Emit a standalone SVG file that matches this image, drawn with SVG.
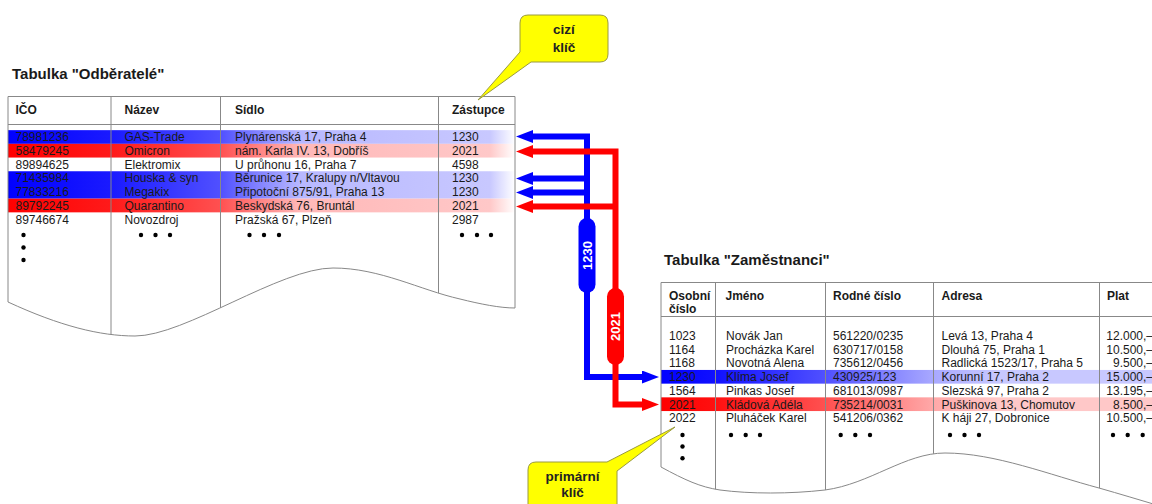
<svg xmlns="http://www.w3.org/2000/svg" width="1152" height="504" viewBox="0 0 1152 504">
<style>
text{font-family:"Liberation Sans",Arial,sans-serif;fill:#1a1a1a}
.t{font-size:12px}
.r{font-size:12px;text-anchor:end}
.h{font-size:12px;font-weight:bold}
.ti{font-size:15px;font-weight:bold}
.cl{font-size:13.5px;font-weight:bold;text-anchor:middle;fill:#222}
.pl{font-size:13px;font-weight:bold;text-anchor:middle;fill:#fff}
.ln{stroke:#888;stroke-width:1;fill:none}
.dot{fill:#000}
.bl{stroke:#0000ff;stroke-width:6;fill:none;stroke-linejoin:miter}
.rd{stroke:#ff0000;stroke-width:6;fill:none;stroke-linejoin:miter}
.callout{fill:#ffff00;stroke:#9a9a40;stroke-width:1}
</style>
<defs>
<linearGradient id="gbL" gradientUnits="userSpaceOnUse" x1="8" y1="0" x2="515" y2="0">
<stop offset="0" stop-color="#0000ff"/><stop offset="0.203" stop-color="#1a1aff"/><stop offset="0.418" stop-color="#5050ff"/><stop offset="0.576" stop-color="#b8b8ff"/><stop offset="0.95" stop-color="#c8c8ff"/><stop offset="1" stop-color="#ffffff"/>
</linearGradient>
<linearGradient id="grL" gradientUnits="userSpaceOnUse" x1="8" y1="0" x2="515" y2="0">
<stop offset="0" stop-color="#ff0000"/><stop offset="0.203" stop-color="#ff1a1a"/><stop offset="0.418" stop-color="#ff5050"/><stop offset="0.576" stop-color="#ffb8b8"/><stop offset="0.95" stop-color="#ffc8c8"/><stop offset="1" stop-color="#ffffff"/>
</linearGradient>
<linearGradient id="gbR" gradientUnits="userSpaceOnUse" x1="661" y1="0" x2="1152" y2="0">
<stop offset="0" stop-color="#0000ff"/><stop offset="0.11" stop-color="#1010ff"/><stop offset="0.334" stop-color="#5050ff"/><stop offset="0.554" stop-color="#a8a8ff"/><stop offset="0.69" stop-color="#c8c8ff"/><stop offset="1" stop-color="#c8c8ff"/>
</linearGradient>
<linearGradient id="grR" gradientUnits="userSpaceOnUse" x1="661" y1="0" x2="1152" y2="0">
<stop offset="0" stop-color="#ff0000"/><stop offset="0.11" stop-color="#ff1010"/><stop offset="0.334" stop-color="#ff5050"/><stop offset="0.554" stop-color="#ffa8a8"/><stop offset="0.69" stop-color="#ffc8c8"/><stop offset="1" stop-color="#ffc8c8"/>
</linearGradient>
<clipPath id="clipL"><path d="M8,96 H515 V308 C500,308 480,304 460,299 C420,290 380,268 333,268 C280,268 185,336 135,336 C100,336 60,326 8,302 Z"/></clipPath>
<clipPath id="clipR"><path d="M661,282 H1160 V506 C1140,500 1120,494 1099,488 C1050,475 995,453 945,453 C905,453 870,484 825,490 C790,494 750,494 720,490 C700,487 685,480 661,467 Z"/></clipPath>
<marker id="ahB" markerUnits="userSpaceOnUse" markerWidth="18" markerHeight="14" refX="1" refY="6.5" orient="auto-start-reverse"><path d="M0,0 L17,6.5 L0,13 Z" fill="#0000ff"/></marker>
<marker id="ahR" markerUnits="userSpaceOnUse" markerWidth="18" markerHeight="14" refX="1" refY="6.5" orient="auto-start-reverse"><path d="M0,0 L17,6.5 L0,13 Z" fill="#ff0000"/></marker>
</defs>
<rect width="1152" height="504" fill="#fff"/>

<g id="table-odberatele">
<text class="ti" x="12" y="79">Tabulka "Odběratelé"</text>
<g clip-path="url(#clipL)">
<rect x="8" y="130.15" width="507" height="13.7" fill="url(#gbL)"/>
<rect x="8" y="143.85" width="507" height="13.7" fill="url(#grL)"/>
<rect x="8" y="171.25" width="507" height="27.4" fill="url(#gbL)"/>
<rect x="8" y="198.65" width="507" height="13.7" fill="url(#grL)"/>
<path class="ln" d="M8,124.5 H515 M111,96 V400 M220.5,96 V400 M438.5,96 V400"/>
</g>
<path class="ln" d="M8,302 V96.5 H515 V308 C500,308 480,304 460,299 C420,290 380,268 333,268 C280,268 185,336 135,336 C100,336 60,326 8,302"/>
<text class="h" x="15.5" y="114">IČO</text>
<text class="h" x="124.5" y="114">Název</text>
<text class="h" x="235" y="114">Sídlo</text>
<text class="h" x="452" y="114">Zástupce</text>
<g class="t">
<text class="t" x="15.5" y="141.3">78981236</text><text class="t" x="124.5" y="141.3">GAS-Trade</text><text class="t" x="235" y="141.3">Plynárenská 17, Praha 4</text><text class="t" x="452" y="141.3">1230</text>
<text class="t" x="15.5" y="155">58479245</text><text class="t" x="124.5" y="155">Omicron</text><text class="t" x="235" y="155">nám. Karla IV. 13, Dobříš</text><text class="t" x="452" y="155">2021</text>
<text class="t" x="15.5" y="168.7">89894625</text><text class="t" x="124.5" y="168.7">Elektromix</text><text class="t" x="235" y="168.7">U průhonu 16, Praha 7</text><text class="t" x="452" y="168.7">4598</text>
<text class="t" x="15.5" y="182.4">71435984</text><text class="t" x="124.5" y="182.4">Houska &amp; syn</text><text class="t" x="235" y="182.4">Běrunice 17, Kralupy n/Vltavou</text><text class="t" x="452" y="182.4">1230</text>
<text class="t" x="15.5" y="196.1">77833216</text><text class="t" x="124.5" y="196.1">Megakix</text><text class="t" x="235" y="196.1">Připotoční 875/91, Praha 13</text><text class="t" x="452" y="196.1">1230</text>
<text class="t" x="15.5" y="209.8">89792245</text><text class="t" x="124.5" y="209.8">Quarantino</text><text class="t" x="235" y="209.8">Beskydská 76, Bruntál</text><text class="t" x="452" y="209.8">2021</text>
<text class="t" x="15.5" y="223.5">89746674</text><text class="t" x="124.5" y="223.5">Novozdroj</text><text class="t" x="235" y="223.5">Pražská 67, Plzeň</text><text class="t" x="452" y="223.5">2987</text>
</g>
<g class="dot">
<circle cx="23.5" cy="235" r="2.2"/><circle cx="23.5" cy="247.5" r="2.2"/><circle cx="23.5" cy="260" r="2.2"/>
<circle cx="141" cy="235" r="2.2"/><circle cx="155.5" cy="235" r="2.2"/><circle cx="170" cy="235" r="2.2"/>
<circle cx="249.5" cy="235" r="2.2"/><circle cx="264" cy="235" r="2.2"/><circle cx="279" cy="235" r="2.2"/>
<circle cx="462" cy="235" r="2.2"/><circle cx="477" cy="235" r="2.2"/><circle cx="491" cy="235" r="2.2"/>
</g>
</g>

<g id="table-zamestnanci">
<text class="ti" x="664" y="265">Tabulka "Zaměstnanci"</text>
<g clip-path="url(#clipR)">
<rect x="661" y="369.95" width="491" height="13.7" fill="url(#gbR)"/>
<rect x="661" y="397.35" width="491" height="13.7" fill="url(#grR)"/>
<path class="ln" d="M661,316.5 H1152 M715.5,282 V510 M825.5,282 V510 M933.5,282 V510 M1099.5,282 V510"/>
</g>
<path class="ln" d="M661,467 V282.5 H1152 M661,467 C685,480 700,487 720,490 C750,494 790,494 825,490 C870,484 905,453 945,453 C995,453 1050,475 1099,488 C1120,494 1140,500 1160,506"/>
<text class="h" x="669" y="300">Osobní</text>
<text class="h" x="669" y="313">číslo</text>
<text class="h" x="725.5" y="300">Jméno</text>
<text class="h" x="833" y="300">Rodné číslo</text>
<text class="h" x="941.5" y="300">Adresa</text>
<text class="h" x="1107" y="300">Plat</text>
<g>
<text class="t" x="669" y="340">1023</text><text class="t" x="726" y="340">Novák Jan</text><text class="t" x="833" y="340">561220/0235</text><text class="t" x="941.5" y="340">Levá 13, Praha 4</text><text class="r" x="1153" y="340">12.000,–</text>
<text class="t" x="669" y="353.7">1164</text><text class="t" x="726" y="353.7">Procházka Karel</text><text class="t" x="833" y="353.7">630717/0158</text><text class="t" x="941.5" y="353.7">Dlouhá 75, Praha 1</text><text class="r" x="1153" y="353.7">10.500,–</text>
<text class="t" x="669" y="367.4">1168</text><text class="t" x="726" y="367.4">Novotná Alena</text><text class="t" x="833" y="367.4">735612/0456</text><text class="t" x="941.5" y="367.4">Radlická 1523/17, Praha 5</text><text class="r" x="1153" y="367.4">9.500,–</text>
<text class="t" x="669" y="381.1">1230</text><text class="t" x="726" y="381.1">Klíma Josef</text><text class="t" x="833" y="381.1">430925/123</text><text class="t" x="941.5" y="381.1">Korunní 17, Praha 2</text><text class="r" x="1153" y="381.1">15.000,–</text>
<text class="t" x="669" y="394.8">1564</text><text class="t" x="726" y="394.8">Pinkas Josef</text><text class="t" x="833" y="394.8">681013/0987</text><text class="t" x="941.5" y="394.8">Slezská 97, Praha 2</text><text class="r" x="1153" y="394.8">13.195,–</text>
<text class="t" x="669" y="408.5">2021</text><text class="t" x="726" y="408.5">Kládová Adéla</text><text class="t" x="833" y="408.5">735214/0031</text><text class="t" x="941.5" y="408.5">Puškinova 13, Chomutov</text><text class="r" x="1153" y="408.5">8.500,–</text>
<text class="t" x="669" y="422.2">2022</text><text class="t" x="726" y="422.2">Pluháček Karel</text><text class="t" x="833" y="422.2">541206/0362</text><text class="t" x="941.5" y="422.2">K háji 27, Dobronice</text><text class="r" x="1153" y="422.2">10.500,–</text>
</g>
<g class="dot">
<circle cx="682.5" cy="435" r="2.2"/><circle cx="682.5" cy="446.5" r="2.2"/><circle cx="682.5" cy="458.3" r="2.2"/>
<circle cx="731" cy="435" r="2.2"/><circle cx="745.7" cy="435" r="2.2"/><circle cx="760" cy="435" r="2.2"/>
<circle cx="840.7" cy="435" r="2.2"/><circle cx="855.3" cy="435" r="2.2"/><circle cx="870" cy="435" r="2.2"/>
<circle cx="950" cy="435" r="2.2"/><circle cx="964.5" cy="435" r="2.2"/><circle cx="979" cy="435" r="2.2"/>
<circle cx="1113" cy="435" r="2.2"/><circle cx="1127.7" cy="435" r="2.2"/><circle cx="1142.7" cy="435" r="2.2"/>
</g>
</g>

<g id="connectors">
<path class="bl" d="M643,377 H587 V136.5 H532" marker-start="url(#ahB)" marker-end="url(#ahB)"/>
<path class="bl" d="M587,178.5 H532" marker-end="url(#ahB)"/>
<path class="bl" d="M587,192.5 H532" marker-end="url(#ahB)"/>
<rect x="578.5" y="218" width="17" height="75" rx="8.5" fill="#0000ff"/>
<text class="pl" transform="translate(591.6,255.5) rotate(-90)">1230</text>
<path class="rd" d="M643,404.5 H615.5 V151.5 H532" marker-start="url(#ahR)" marker-end="url(#ahR)"/>
<path class="rd" d="M615.5,206.5 H532" marker-end="url(#ahR)"/>
<rect x="607" y="288" width="17" height="77" rx="8.5" fill="#ff0000"/>
<text class="pl" transform="translate(620.1,326.5) rotate(-90)">2021</text>
</g>

<g id="callout-cizi-klic">
<path class="callout" d="M528,15 H600 Q608,15 608,23 V54 Q608,62 600,62 H531 L478,100 L520,52 V23 Q520,15 528,15 Z"/>
<text class="cl" x="564" y="33.5">cizí</text>
<text class="cl" x="564" y="51.5">klíč</text>
</g>

<g id="callout-primarni-klic">
<path class="callout" d="M536,462 H607 L675,427 L617,471 V515 H528 V470 Q528,462 536,462 Z"/>
<text class="cl" x="572.5" y="481">primární</text>
<text class="cl" x="572.5" y="496.5">klíč</text>
</g>
</svg>
